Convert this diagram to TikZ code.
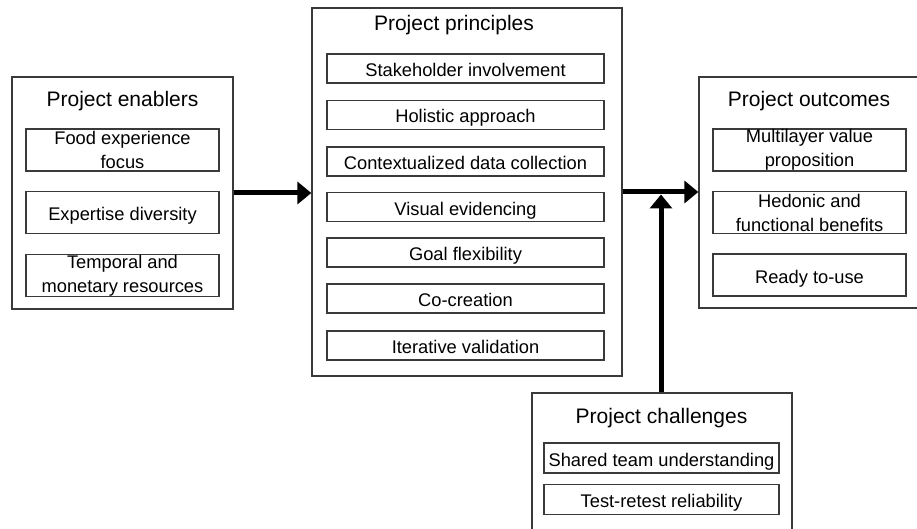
\documentclass[tikz,border=0pt]{standalone}
\usepackage{fontspec}
\setmainfont{Liberation Sans}
\usetikzlibrary{arrows.meta}
\definecolor{bordergray}{HTML}{3A3A3A}
\tikzset{
  outerbox/.style={draw=bordergray, line width=1.3pt, rectangle, inner sep=0pt},
  innerbox/.style={draw=bordergray, line width=1.3pt, rectangle, inner sep=0pt,
    align=center, font=\fontsize{18.3}{24}\selectfont},
  oneline/.style={draw=bordergray, line width=1.3pt, rectangle, inner sep=0pt,
    font=\fontsize{18.3}{24}\selectfont, text height=16pt, text depth=0pt},
  titletext/.style={font=\fontsize{21}{24}\selectfont, inner sep=0pt},
  flowarrow/.style={line width=5pt, -{Triangle[length=14pt,width=22pt]}}
}
\begin{document}
\begin{tikzpicture}[x=1pt, y=-1pt]
\useasboundingbox (0,0) rectangle (917,529);

% Project enablers
\node[outerbox, minimum width=221pt, minimum height=232pt] (en) at (122.5,193) {};
\node[titletext] (ent) at (122.5,101) {Project enablers};
\node[innerbox, minimum width=193pt, minimum height=42pt] (en1) at (122.5,150) {Food experience\\focus};
\node[oneline, minimum width=193pt, minimum height=42pt] (en2) at (122.5,212.5) {Expertise diversity};
\node[innerbox, minimum width=193pt, minimum height=42pt] (en3) at (122.5,275.5) {Temporal and\\monetary resources};

% Project principles
\node[outerbox, minimum width=310pt, minimum height=368pt] (pr) at (467,192) {};
\node[titletext] (prt) at (454,25.5) {Project principles};
\node[oneline, minimum width=277pt, minimum height=29pt] (pr1) at (465.5,68.5) {Stakeholder involvement};
\node[oneline, minimum width=277pt, minimum height=29pt] (pr2) at (465.5,115) {Holistic approach};
\node[oneline, minimum width=277pt, minimum height=29pt] (pr3) at (465.5,161.5) {Contextualized data collection};
\node[oneline, minimum width=277pt, minimum height=29pt] (pr4) at (465.5,207) {Visual evidencing};
\node[oneline, minimum width=277pt, minimum height=29pt] (pr5) at (465.5,252.5) {Goal flexibility};
\node[oneline, minimum width=277pt, minimum height=29pt] (pr6) at (465.5,298.5) {Co-creation};
\node[oneline, minimum width=277pt, minimum height=29pt] (pr7) at (465.5,345.5) {Iterative validation};

% Project outcomes (extends past right edge)
\node[outerbox, minimum width=231pt, minimum height=231pt] (ou) at (814.5,192.5) {};
\node[titletext] (out) at (809,101) {Project outcomes};
\node[innerbox, minimum width=193pt, minimum height=42pt] (ou1) at (809.5,150) {Multilayer value\\proposition};
\node[innerbox, minimum width=193pt, minimum height=42pt] (ou2) at (809.5,212.5) {Hedonic and\\functional benefits};
\node[oneline, minimum width=193pt, minimum height=42pt] (ou3) at (809.5,275) {Ready to-use};

% Project challenges (extends past bottom edge)
\node[outerbox, minimum width=260pt, minimum height=150pt] (ch) at (662,468) {};
\node[titletext] (cht) at (661.5,418) {Project challenges};
\node[oneline, minimum width=235pt, minimum height=30pt] (ch1) at (661.5,458) {Shared team understanding};
\node[oneline, minimum width=235pt, minimum height=30pt] (ch2) at (661.5,499.5) {Test-retest reliability};

% Connectors
\draw[flowarrow] (en.east |- 0,193) -- (pr.west |- 0,193);
\draw[flowarrow] (pr.east |- 0,192) -- (ou.west |- 0,192);
\coordinate (j) at (661,194.5);
\draw[flowarrow] (ch.north -| j) -- (j);
\end{tikzpicture}
\end{document}
